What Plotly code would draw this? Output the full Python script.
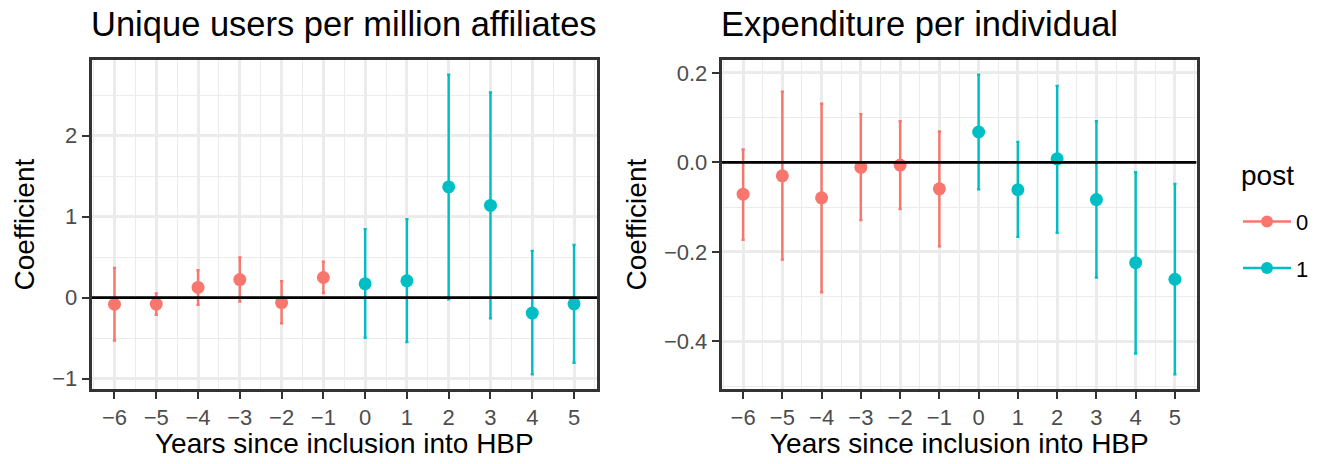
import plotly.graph_objects as go

# Event-study coefficients with 95% confidence bounds
years = [-6, -5, -4, -3, -2, -1, 0, 1, 2, 3, 4, 5]
year_labels = ["−6", "−5", "−4", "−3", "−2", "−1", "0", "1", "2", "3", "4", "5"]
post = [0, 0, 0, 0, 0, 0, 1, 1, 1, 1, 1, 1]

users_est = [-0.082, -0.080, 0.126, 0.223, -0.061, 0.248, 0.171, 0.207, 1.366, 1.138, -0.191, -0.077]
users_lo = [-0.529, -0.212, -0.090, -0.049, -0.317, 0.057, -0.496, -0.549, -0.020, -0.256, -0.947, -0.804]
users_hi = [0.366, 0.052, 0.337, 0.496, 0.203, 0.443, 0.845, 0.967, 2.751, 2.532, 0.577, 0.650]

exp_est = [-0.071, -0.030, -0.079, -0.011, -0.006, -0.059, 0.068, -0.061, 0.008, -0.083, -0.224, -0.261]
exp_lo = [-0.173, -0.217, -0.290, -0.129, -0.104, -0.1875, -0.060, -0.166, -0.157, -0.257, -0.427, -0.4735]
exp_hi = [0.029, 0.158, 0.131, 0.108, 0.092, 0.069, 0.196, 0.046, 0.171, 0.092, -0.022, -0.048]

users_ticks = [-1, 0, 1, 2]
users_ticktext = ["−1", "0", "1", "2"]
exp_ticks = [-0.4, -0.2, 0.0, 0.2]
exp_ticktext = ["−0.4", "−0.2", "0.0", "0.2"]

titles = ["Unique users per million affiliates", "Expenditure per individual"]
x_title = "Years since inclusion into HBP"
y_title = "Coefficient"
legend_title = "post"
group_names = ["0", "1"]
colors = {0: "#F8766D", 1: "#00BFC4"}

W, H = 1331, 464
FONT = "Liberation Sans"
GRID = "#EBEBEB"
AXIS = "#333333"


def px(x):
    return x / W


def py(y):
    return 1 - y / H


def expanded(lo, hi, mult=0.05):
    a, b = min(lo), max(hi)
    pad = (b - a) * mult
    return [a - pad, b + pad]


x_range = [years[0] - 0.55, years[-1] + 0.55]

fig = go.Figure()

panels = [
    ("x", "y", users_est, users_lo, users_hi),
    ("x2", "y2", exp_est, exp_lo, exp_hi),
]

for xa, ya, est, lo, hi in panels:
    for g in (0, 1):
        idx = [i for i, p in enumerate(post) if p == g]
        fig.add_trace(go.Scatter(
            x=[years[i] for i in idx],
            y=[est[i] for i in idx],
            mode="markers",
            marker=dict(color=colors[g], size=13),
            error_y=dict(
                type="data", symmetric=False,
                array=[hi[i] - est[i] for i in idx],
                arrayminus=[est[i] - lo[i] for i in idx],
                color=colors[g], thickness=2.4, width=1.6,
            ),
            xaxis=xa, yaxis=ya, showlegend=False, hoverinfo="x+y",
        ))
    # horizontal reference at zero, drawn over the estimates
    fig.add_trace(go.Scatter(
        x=x_range, y=[0, 0], mode="lines",
        line=dict(color="black", width=2.7),
        xaxis=xa, yaxis=ya, showlegend=False, hoverinfo="skip",
    ))

# legend keys
for g in (0, 1):
    fig.add_trace(go.Scatter(
        x=[None], y=[None], mode="lines+markers", name=group_names[g],
        line=dict(color=colors[g], width=2.4),
        marker=dict(color=colors[g], size=12),
        legendgroup=group_names[g], showlegend=True,
    ))

minor_x = dict(tick0=-6.5, dtick=1, showgrid=True, gridcolor=GRID, gridwidth=1.3)

common_x = dict(
    range=x_range, tickmode="array", tickvals=years, ticktext=year_labels,
    showgrid=True, gridcolor=GRID, gridwidth=2.6, minor=minor_x,
    showline=True, mirror=True, linecolor=AXIS, linewidth=2.5,
    ticks="outside", ticklen=7, tickwidth=2.4, tickcolor=AXIS,
    tickfont=dict(family=FONT, size=22, color="#4D4D4D"),
    zeroline=False, fixedrange=True,
)
common_y = dict(
    showgrid=True, gridcolor=GRID, gridwidth=2.6,
    showline=True, mirror=True, linecolor=AXIS, linewidth=2.5,
    ticks="outside", ticklen=7, tickwidth=2.4, tickcolor=AXIS,
    tickfont=dict(family=FONT, size=22, color="#4D4D4D"),
    zeroline=False, fixedrange=True,
)

y_dom = [py(391), py(60)]

fig.update_layout(
    width=W, height=H,
    margin=dict(l=0, r=0, t=0, b=0),
    paper_bgcolor="white", plot_bgcolor="white",
    font=dict(family=FONT, color="black"),
    xaxis=dict(domain=[px(91.5), px(597)], anchor="y", **common_x),
    yaxis=dict(domain=y_dom, anchor="x", range=expanded(users_lo, users_hi),
               tickmode="array", tickvals=users_ticks, ticktext=users_ticktext,
               minor=dict(tick0=-0.5, dtick=1, showgrid=True, gridcolor=GRID, gridwidth=1.3),
               **common_y),
    xaxis2=dict(domain=[px(721.5), px(1196.5)], anchor="y2", **common_x),
    yaxis2=dict(domain=y_dom, anchor="x2", range=expanded(exp_lo, exp_hi),
                tickmode="array", tickvals=exp_ticks, ticktext=exp_ticktext,
                minor=dict(tick0=-0.5, dtick=0.2, showgrid=True, gridcolor=GRID, gridwidth=1.3),
                **common_y),
    legend=dict(
        font=dict(family=FONT, size=22, color="black"),
        x=px(1238), y=py(201.5), xanchor="left", yanchor="top",
        bgcolor="rgba(0,0,0,0)", tracegroupgap=15, itemwidth=48,
    ),
    showlegend=True,
)

ann = []
# panel titles
ann.append(dict(text=titles[0], x=px(88.5), y=py(24), xanchor="left", yanchor="middle",
                font=dict(size=34.5, color="black", family=FONT)))
ann.append(dict(text=titles[1], x=px(718.5), y=py(24), xanchor="left", yanchor="middle",
                font=dict(size=34.5, color="black", family=FONT)))
# axis titles
for cx in ((91.5 + 597) / 2, (721.5 + 1196.5) / 2):
    ann.append(dict(text=x_title, x=px(cx), y=py(445), xanchor="center", yanchor="middle",
                    font=dict(size=28, color="black", family=FONT)))
for cx in (25, 637):
    ann.append(dict(text=y_title, x=px(cx), y=py(225.5), xanchor="center", yanchor="middle",
                    textangle=-90, font=dict(size=28, color="black", family=FONT)))
# legend heading
ann.append(dict(text=legend_title, x=px(1239), y=py(176), xanchor="left", yanchor="middle",
                font=dict(size=28, color="black", family=FONT)))
for a in ann:
    a.update(xref="paper", yref="paper", showarrow=False)
fig.update_layout(annotations=ann)

fig.write_html("out.html")
